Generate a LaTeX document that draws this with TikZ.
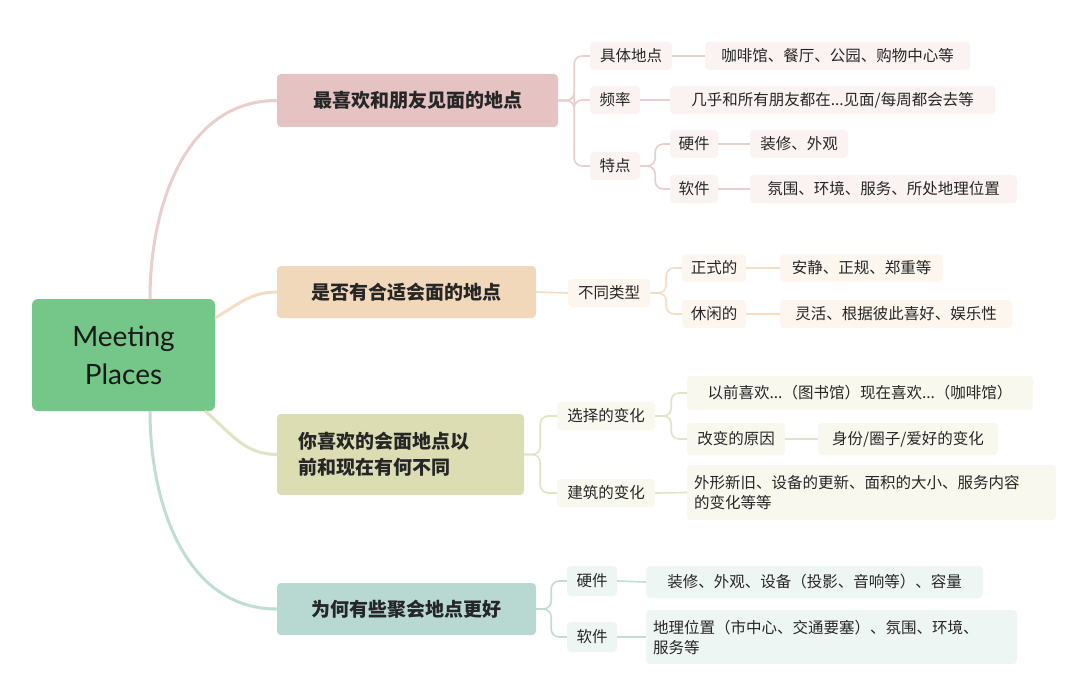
\documentclass[tikz,border=0pt]{standalone}
\usepackage{fontspec}
\setmainfont{Noto Sans CJK SC}
\newfontfamily\latinf{Lato}
\begin{document}
\begin{tikzpicture}[x=1pt,y=-1pt,
  every node/.style={text=black!85, inner sep=0pt, align=center},
  mainb/.style={rounded corners=4pt, font=\fontsize{19}{26}\selectfont\bfseries},
  subb/.style={rounded corners=4pt, font=\fontsize{15.5}{20}\selectfont},
  link/.style={line width=1.6pt, rounded corners=8pt},
  trunk/.style={line width=3pt}]
\definecolor{cA}{HTML}{E4C3C2}\definecolor{lA}{HTML}{FBF3F2}\definecolor{kA}{HTML}{E8CFCE}
\definecolor{cB}{HTML}{F1D8BA}\definecolor{lB}{HTML}{FCF6EE}\definecolor{kB}{HTML}{F3DEC4}
\definecolor{cC}{HTML}{DCDDB3}\definecolor{lC}{HTML}{F8F8EE}\definecolor{kC}{HTML}{E2E3C3}
\definecolor{cD}{HTML}{B8D9D2}\definecolor{lD}{HTML}{EEF6F4}\definecolor{kD}{HTML}{BFDDD6}
\definecolor{root}{HTML}{74C788}
\fill[white] (0,0) rectangle (1080,698);
\node[rounded corners=6pt, fill=root, minimum width=183, minimum height=112, font=\latinf\fontsize{28}{38}\selectfont, text=black!90] (R) at (123.5,355) {Meeting\\Places};
% main branches
\node[mainb, fill=cA, minimum width=281, minimum height=53] (A) at (417.5,100.5) {最喜欢和朋友见面的地点};
\node[mainb, fill=cB, minimum width=259, minimum height=52] (B) at (406.5,292) {是否有合适会面的地点};
\node[mainb, fill=cC, minimum width=247, minimum height=81, text width=205, align=left] (C) at (400.5,454.5) {你喜欢的会面地点以\\前和现在有何不同};
\node[mainb, fill=cD, minimum width=259, minimum height=52] (D) at (406.5,609) {为何有些聚会地点更好};
\draw[trunk, kA] (150,299) to[out=90,in=180] (A.west);
\draw[trunk, kB] (215,318) to[out=30,in=180] (B.west);
\draw[trunk, kC] (205,411) to[out=-40,in=180] (C.west);
\draw[trunk, kD] (150,411) to[out=-90,in=180] (D.west);
% branch A
\tikzset{sA/.style={subb, fill=lA}}
\node[sA, minimum width=82, minimum height=28] (A1) at (631,56) {具体地点};
\node[sA, minimum width=50, minimum height=28] (A2) at (615,100) {频率};
\node[sA, minimum width=50, minimum height=28] (A3) at (615,166) {特点};
\node[sA, minimum width=265, minimum height=28] (A11) at (837.5,56) {咖啡馆、餐厅、公园、购物中心等};
\node[sA, minimum width=325, minimum height=28] (A21) at (832.5,100) {几乎和所有朋友都在...见面/每周都会去等};
\node[sA, minimum width=48, minimum height=28] (A31) at (694,144) {硬件};
\node[sA, minimum width=48, minimum height=28] (A32) at (694,189) {软件};
\node[sA, minimum width=98, minimum height=28] (A311) at (799,144) {装修、外观};
\node[sA, minimum width=267, minimum height=28] (A321) at (883.5,189) {氛围、环境、服务、所处地理位置};
\foreach \c in {A1,A2,A3} \draw[link,kA] (A.east) -- ++(16,0) |- (\c.west);
\draw[link,kA] (A1.east) -- (A11.west);
\draw[link,kA] (A2.east) -- (A21.west);
\foreach \c in {A31,A32} \draw[link,kA] (A3.east) -- ++(15,0) |- (\c.west);
\draw[link,kA] (A31.east) -- (A311.west);
\draw[link,kA] (A32.east) -- (A321.west);
% branch B
\tikzset{sB/.style={subb, fill=lB}}
\node[sB, minimum width=82, minimum height=28] (B1) at (609,293) {不同类型};
\node[sB, minimum width=64, minimum height=28] (B11) at (714,268) {正式的};
\node[sB, minimum width=64, minimum height=28] (B12) at (714,314) {休闲的};
\node[sB, minimum width=163, minimum height=28] (B111) at (861.5,268) {安静、正规、郑重等};
\node[sB, minimum width=232, minimum height=28] (B121) at (896,314) {灵活、根据彼此喜好、娱乐性};
\draw[link,kB] (B.east) -- (B1.west);
\foreach \c in {B11,B12} \draw[link,kB] (B1.east) -- ++(16,0) |- (\c.west);
\draw[link,kB] (B11.east) -- (B111.west);
\draw[link,kB] (B12.east) -- (B121.west);
% branch C
\tikzset{sC/.style={subb, fill=lC}}
\node[sC, minimum width=98, minimum height=28] (C1) at (606,416) {选择的变化};
\node[sC, minimum width=98, minimum height=28] (C2) at (606,493) {建筑的变化};
\node[sC, minimum width=346, minimum height=34] (C11) at (860,393) {以前喜欢...（图书馆）现在喜欢...（咖啡馆）};
\node[sC, minimum width=98, minimum height=32] (C12) at (736,439) {改变的原因};
\node[sC, minimum width=180, minimum height=32] (C121) at (908,439) {身份/圈子/爱好的变化};
\node[sC, minimum width=369, minimum height=55, text width=355, align=left] (C21) at (871.5,492.5) {外形新旧、设备的更新、面积的大小、服务内容\\的变化等等};
\foreach \c in {C1,C2} \draw[link,kC] (C.east) -- ++(16,0) |- (\c.west);
\foreach \c in {C11,C12} \draw[link,kC] (C1.east) -- ++(16,0) |- (\c.west);
\draw[link,kC] (C12.east) -- (C121.west);
\draw[link,kC] (C2.east) -- (C21.west);
% branch D
\tikzset{sD/.style={subb, fill=lD}}
\node[sD, minimum width=50, minimum height=30] (D1) at (592,581) {硬件};
\node[sD, minimum width=50, minimum height=30] (D2) at (592,637) {软件};
\node[sD, minimum width=337, minimum height=32] (D11) at (814.5,582) {装修、外观、设备（投影、音响等）、容量};
\node[sD, minimum width=371, minimum height=54, text width=357, align=left] (D21) at (831.5,637) {地理位置（市中心、交通要塞）、氛围、环境、\\服务等};
\foreach \c in {D1,D2} \draw[link,kD] (D.east) -- ++(15,0) |- (\c.west);
\draw[link,kD] (D1.east) -- (D11.west);
\draw[link,kD] (D2.east) -- (D21.west);
\end{tikzpicture}
\end{document}
